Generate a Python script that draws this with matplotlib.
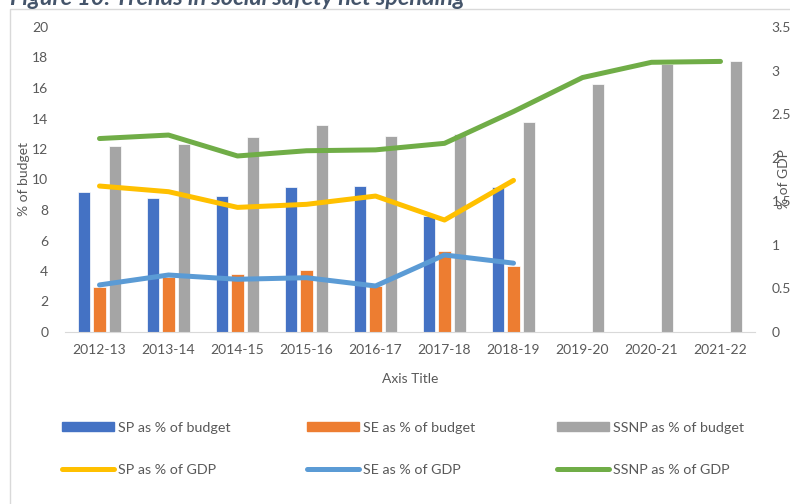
import numpy as np
import matplotlib.pyplot as plt
from matplotlib.patches import Patch, Rectangle
from matplotlib.lines import Line2D

plt.rcParams['font.family'] = ['Lato', 'DejaVu Sans']

# Data
years = ['2012-13', '2013-14', '2014-15', '2015-16', '2016-17',
         '2017-18', '2018-19', '2019-20', '2020-21', '2021-22']
sp_budget = [9.2, 8.8, 8.95, 9.5, 9.6, 7.6, 9.5]
se_budget = [2.97, 3.6, 3.78, 4.05, 3.0, 5.3, 4.3]
ssnp_budget = [12.2, 12.33, 12.77, 13.57, 12.85, 13.0, 13.77, 16.28, 17.6, 17.8]
sp_gdp = [1.675, 1.61, 1.43, 1.465, 1.56, 1.285, 1.74]
se_gdp = [0.54, 0.654, 0.605, 0.623, 0.528, 0.884, 0.79]
ssnp_gdp = [2.22, 2.26, 2.02, 2.08, 2.09, 2.165, 2.53, 2.92, 3.095, 3.105]

c_blue, c_orange, c_grey = '#4472C4', '#ED7D31', '#A5A5A5'
c_yellow, c_lblue, c_green = '#FFC000', '#5B9BD5', '#70AD47'
txt = '#595959'

fig = plt.figure(figsize=(7.9, 5.04), dpi=100)
ax = fig.add_axes([65 / 790, 1 - 332 / 504, 690 / 790, 305 / 504])
ax2 = ax.twinx()

x = np.arange(len(years))
w = 0.175
off = 0.225
ax.bar(x[:len(sp_budget)] - off, sp_budget, w, color=c_blue, edgecolor='white', linewidth=0.5)
ax.bar(x[:len(se_budget)], se_budget, w, color=c_orange, edgecolor='white', linewidth=0.5)
ax.bar(x + off, ssnp_budget, w, color=c_grey, edgecolor='white', linewidth=0.5)

lw = 3.6
ax2.plot(x[:len(sp_gdp)], sp_gdp, color=c_yellow, lw=lw, solid_capstyle='round', solid_joinstyle='round')
ax2.plot(x[:len(se_gdp)], se_gdp, color=c_lblue, lw=lw, solid_capstyle='round', solid_joinstyle='round')
ax2.plot(x, ssnp_gdp, color=c_green, lw=lw, solid_capstyle='round', solid_joinstyle='round')

ax.set_xlim(-0.5, len(years) - 0.5)
ax.set_ylim(0, 20)
ax.set_yticks(range(0, 21, 2))
ax2.set_ylim(0, 3.5)
ax2.set_yticks([0, 0.5, 1, 1.5, 2, 2.5, 3, 3.5])
ax2.set_yticklabels(['0', '0.5', '1', '1.5', '2', '2.5', '3', '3.5'])
ax.set_xticks(x)
ax.set_xticklabels(years)

for a in (ax, ax2):
    for s in a.spines.values():
        s.set_visible(False)
    a.tick_params(length=0, colors=txt, labelsize=10)
ax.spines['bottom'].set_visible(True)
ax.spines['bottom'].set_color('#D9D9D9')
ax.tick_params(axis='x', pad=9)
ax.tick_params(axis='y', pad=12)
ax2.tick_params(axis='y', pad=12)

ax.set_ylabel('% of budget', color=txt, fontsize=10)
ax.yaxis.set_label_coords(-0.0507, 0.5)
ax.set_xlabel('Axis Title', color=txt, fontsize=10)
ax.xaxis.set_label_coords(0.5, -0.135)
ax2.set_ylabel('% of GDP', color=txt, fontsize=10)
ax2.yaxis.set_label_coords(1.0333, 0.5)

# chart frame and cropped title
fig.patches.append(Rectangle((10 / 790, -0.1), 1.2, 1 - 9 / 504 + 0.1, transform=fig.transFigure,
                             fill=False, edgecolor='#D9D9D9', lw=1))
fig.text(10 / 790, 1 - 5 / 504, 'Figure 10: Trends in social safety net spending',
         fontsize=16.8, fontweight='bold', fontstyle='italic', color='#44546A',
         ha='left', va='baseline')

# legend, three columns
cols = [
    (62, [Patch(color=c_blue), Line2D([], [], color=c_yellow, lw=lw, solid_capstyle='round')],
     ['SP as % of budget', 'SP as % of GDP']),
    (307, [Patch(color=c_orange), Line2D([], [], color=c_lblue, lw=lw, solid_capstyle='round')],
     ['SE as % of budget', 'SE as % of GDP']),
    (557, [Patch(color=c_grey), Line2D([], [], color=c_green, lw=lw, solid_capstyle='round')],
     ['SSNP as % of budget', 'SSNP as % of GDP']),
]
for xp, handles, labels in cols:
    fig.legend(handles, labels, loc='upper left', bbox_to_anchor=(xp / 790, 1 - 422 / 504),
               frameon=False, fontsize=10.3, labelcolor=txt, handlelength=3.6,
               handleheight=0.6, handletextpad=0.3, labelspacing=2.1,
               borderaxespad=0, borderpad=0)

fig.savefig('out.png', dpi=100)
